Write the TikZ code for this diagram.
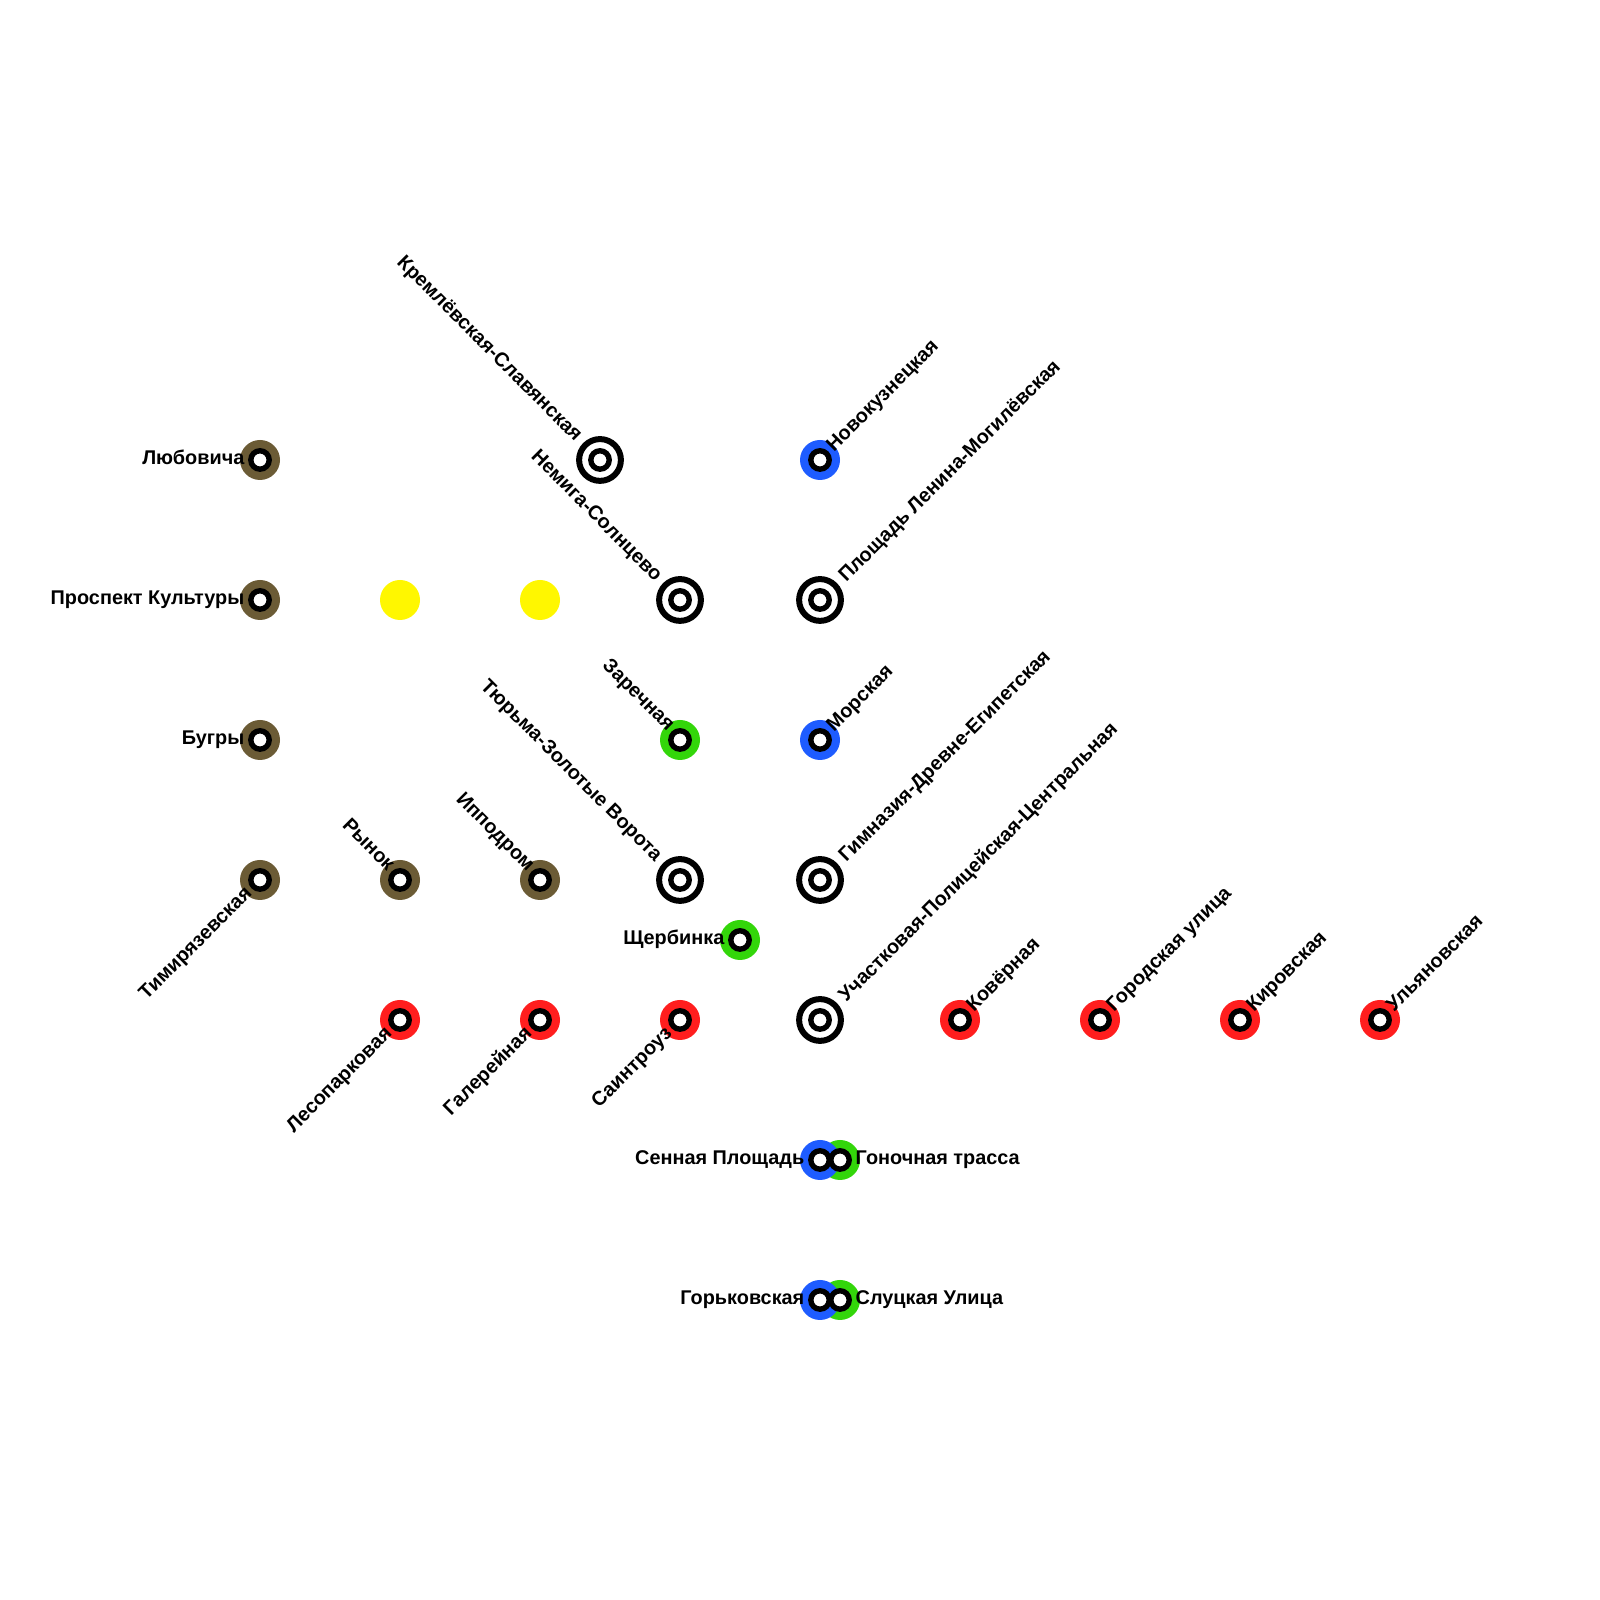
\documentclass[tikz,border=0pt]{standalone}
\usepackage{fontspec}
\setmainfont{Liberation Sans}
\usepackage{xcolor}
\usetikzlibrary{positioning}
\definecolor{brownln}{HTML}{6B5B35}
\definecolor{blueln}{HTML}{1E5CFF}
\definecolor{greenln}{HTML}{33D60A}
\definecolor{redln}{HTML}{FF1E1E}
\definecolor{yellowln}{HTML}{FFF700}

\begin{document}
\begin{tikzpicture}[
  x=1cm,
  y=1cm,
  font=\fontsize{5.65pt}{6.5pt}\selectfont\bfseries,
  dot/.style={circle, fill=#1, minimum size=4mm, inner sep=0pt},
  ring/.style={circle, draw=black, line width=0.54mm, fill=white, minimum size=1.84mm, inner sep=0pt},
  stn/.style={dot=#1, path picture={
    \draw[line width=0.54mm, fill=white] (path picture bounding box.center) circle (0.92mm);}},
  xfer/.style={circle, draw=black, line width=0.6mm, fill=white, minimum size=4.18mm, inner sep=0pt,
    path picture={
    \draw[line width=0.54mm, fill=white] (path picture bounding box.center) circle (0.92mm);}},
  txt/.style={inner sep=0pt, text height=1.4mm, text depth=0.4mm},
  tw/.style={txt, anchor=east, xshift=-1.5mm},
  te/.style={txt, anchor=west, xshift=1.5mm},
  tne/.style={txt, rotate=45, anchor=west, xshift=1.46mm, yshift=0.04mm},
  tsw/.style={txt, rotate=45, anchor=east, xshift=-1.48mm, yshift=-0.02mm},
  tnw/.style={txt, rotate=-45, anchor=east, xshift=-1.43mm, yshift=0.16mm},
  tnex/.style={txt, rotate=45, anchor=west, xshift=3mm, yshift=-0.15mm},
  tnwx/.style={txt, rotate=-45, anchor=east, xshift=-2.98mm, yshift=-0.02mm}
]
\useasboundingbox (0,0) rectangle (16,16);

% brown line
\node[stn=brownln] (lyubovicha) at (2.6,11.4) {};
\node[stn=brownln] (prospekt) at (2.6,10) {};
\node[stn=brownln] (bugry) at (2.6,8.6) {};
\node[stn=brownln] (timiryazev) at (2.6,7.2) {};
\node[stn=brownln] (rynok) at (4,7.2) {};
\node[stn=brownln] (ippodrom) at (5.4,7.2) {};

% yellow line
\node[dot=yellowln] (yellowa) at (4,10) {};
\node[dot=yellowln] (yellowb) at (5.4,10) {};

% blue line
\node[stn=blueln] (novokuz) at (8.2,11.4) {};
\node[stn=blueln] (morskaya) at (8.2,8.6) {};

% green line, under the blue one
\node[stn=greenln] (zarechnaya) at (6.8,8.6) {};
\node[stn=greenln] (shcherbinka) at (7.4,6.6) {};
\node[dot=greenln] (gonochnaya) at (8.4,4.4) {};
\node[dot=greenln] (slutskaya) at (8.4,3) {};
\node[dot=blueln] (sennaya) at (8.2,4.4) {};
\node[dot=blueln] (gorkovskaya) at (8.2,3) {};
\node[ring] (gonochnaya-r) at (gonochnaya) {};
\node[ring] (slutskaya-r) at (slutskaya) {};
\node[ring] (sennaya-r) at (sennaya) {};
\node[ring] (gorkovskaya-r) at (gorkovskaya) {};

% red line
\node[stn=redln] (lesopark) at (4,5.8) {};
\node[stn=redln] (galereya) at (5.4,5.8) {};
\node[stn=redln] (saintrouz) at (6.8,5.8) {};
\node[stn=redln] (kovernaya) at (9.6,5.8) {};
\node[stn=redln] (gorodskaya) at (11,5.8) {};
\node[stn=redln] (kirovskaya) at (12.4,5.8) {};
\node[stn=redln] (ulyanov) at (13.8,5.8) {};

% transfers
\node[xfer] (kreml) at (6,11.4) {};
\node[xfer] (nemiga) at (6.8,10) {};
\node[xfer] (lenina) at (8.2,10) {};
\node[xfer] (tyurma) at (6.8,7.2) {};
\node[xfer] (gimnaziya) at (8.2,7.2) {};
\node[xfer] (uchastok) at (8.2,5.8) {};

% labels
\node[tw] (t1) at (lyubovicha) {Любовича};
\node[tw] (t2) at (prospekt) {Проспект Культуры};
\node[tw] (t3) at (bugry) {Бугры};
\node[tsw] (t4) at (timiryazev) {Тимирязевская};
\node[tnw] (t5) at (rynok) {Рынок};
\node[tnw] (t6) at (ippodrom) {Ипподром};
\node[tne] (t7) at (novokuz) {Новокузнецкая};
\node[tne] (t8) at (morskaya) {Морская};
\node[tnw] (t9) at (zarechnaya) {Заречная};
\node[tw] (t10) at (shcherbinka) {Щербинка};
\node[te] (t11) at (gonochnaya) {Гоночная трасса};
\node[te] (t12) at (slutskaya) {Слуцкая Улица};
\node[tw] (t13) at (sennaya) {Сенная Площадь};
\node[tw] (t14) at (gorkovskaya) {Горьковская};
\node[tsw] (t15) at (lesopark) {Лесопарковая};
\node[tsw] (t16) at (galereya) {Галерейная};
\node[tsw] (t17) at (saintrouz) {Саинтроуз};
\node[tne] (t18) at (kovernaya) {Ковёрная};
\node[tne] (t19) at (gorodskaya) {Городская улица};
\node[tne] (t20) at (kirovskaya) {Кировская};
\node[tne] (t21) at (ulyanov) {Ульяновская};
\node[tnwx] (t22) at (kreml) {Кремлёвская-Славянская};
\node[tnwx] (t23) at (nemiga) {Немига-Солнцево};
\node[tnex] (t24) at (lenina) {Площадь Ленина-Могилёвская};
\node[tnwx] (t25) at (tyurma) {Тюрьма-Золотые Ворота};
\node[tnex] (t26) at (gimnaziya) {Гимназия-Древне-Египетская};
\node[tnex] (t27) at (uchastok) {Участковая-Полицейская-Центральная};

\end{tikzpicture}
\end{document}
